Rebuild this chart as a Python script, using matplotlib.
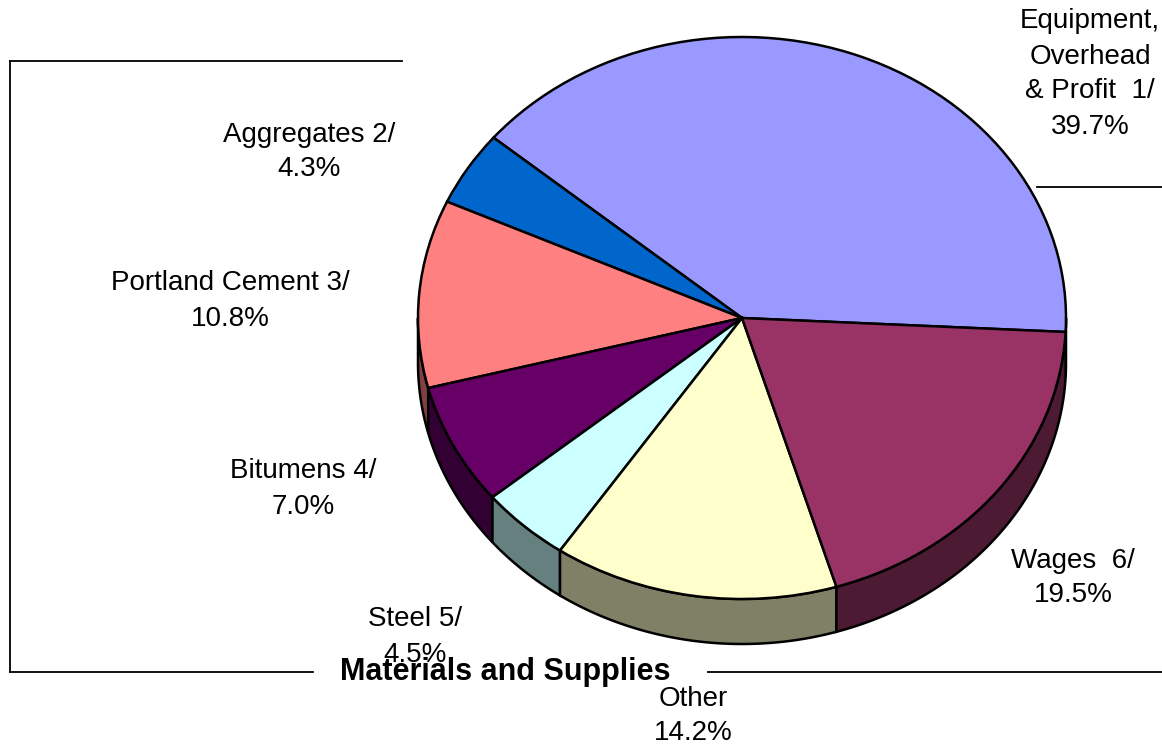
import numpy as np
import matplotlib
matplotlib.use("Agg")
import matplotlib.pyplot as plt
from matplotlib.patches import Polygon
from matplotlib.transforms import Affine2D

# ---- data ----
names = ["Equipment,\nOverhead\n& Profit  1/", "Aggregates 2/", "Portland Cement 3/",
         "Bitumens 4/", "Steel 5/", "Other", "Wages  6/"]
values = [39.7, 4.3, 10.8, 7.0, 4.5, 14.2, 19.5]
top_colors = ["#9999FF", "#0066CC", "#FF8080", "#660066", "#CCFFFF", "#FFFFCC", "#993366"]
side_colors = ["#4D4D80", "#003366", "#804040", "#330033", "#668080", "#808066", "#4D1A33"]
group_label = "Materials and Supplies"

# ---- layout (pixels) ----
W, H = 1162, 746
CX, CY, RX, RY, DEPTH = 742, 318, 324, 281, 45
label_pos = [(1090, 74), (309, 152), (230, 301), (303, 489), (415, 637), (693, 716), (1073, 578)]

plt.rcParams['font.family'] = ['Liberation Sans', 'DejaVu Sans']

fig = plt.figure(figsize=(W / 100, H / 100), dpi=100)
ax = fig.add_axes([0, 0, 1, 1])

wedges, _ = ax.pie(values, colors=top_colors, startangle=-2.85, counterclock=True,
                   wedgeprops=dict(edgecolor="black", linewidth=1.8))
ax.set_aspect("auto")
ax.set_xlim(0, W)
ax.set_ylim(H, 0)
ax.axis("off")

tr = Affine2D().scale(RX, -RY).translate(CX, CY) + ax.transData
for w in wedges:
    w.set_transform(tr)
    w.set_zorder(3)


def side_poly(a, b):
    t = np.radians(np.linspace(a, b, 80))
    xs = CX + RX * np.cos(t)
    ys = CY - RY * np.sin(t)
    top = np.column_stack([xs, ys])
    bot = np.column_stack([xs[::-1], ys[::-1] + DEPTH])
    return np.vstack([top, bot])


for w, sc in zip(wedges, side_colors):
    t1, t2 = w.theta1, w.theta2
    for lo, hi in [(180, 360), (-180, 0), (540, 720)]:
        a, b = max(t1, lo), min(t2, hi)
        if b > a:
            ax.add_patch(Polygon(side_poly(a, b), closed=True, facecolor=sc,
                                 edgecolor="black", linewidth=1.8, zorder=2))

# ---- labels ----
for name, v, (x, y) in zip(names, values, label_pos):
    ax.text(x, y, f"{name}\n{v:.1f}%", ha="center", va="center", multialignment="center",
            fontsize=20, linespacing=1.45, zorder=5)

# ---- bracket lines ----
lk = dict(color="black", linewidth=1.3, zorder=1)
ax.plot([10, 402], [61, 61], **lk)
ax.plot([10, 10], [61, 672], **lk)
ax.plot([10, 313], [672, 672], **lk)
ax.plot([708, W], [672, 672], **lk)
ax.plot([1037, W], [187, 187], **lk)
ax.text(505, 672, group_label, ha="center", va="center", fontsize=22,
        fontweight="bold", zorder=6)

fig.savefig("out.png", dpi=100)
